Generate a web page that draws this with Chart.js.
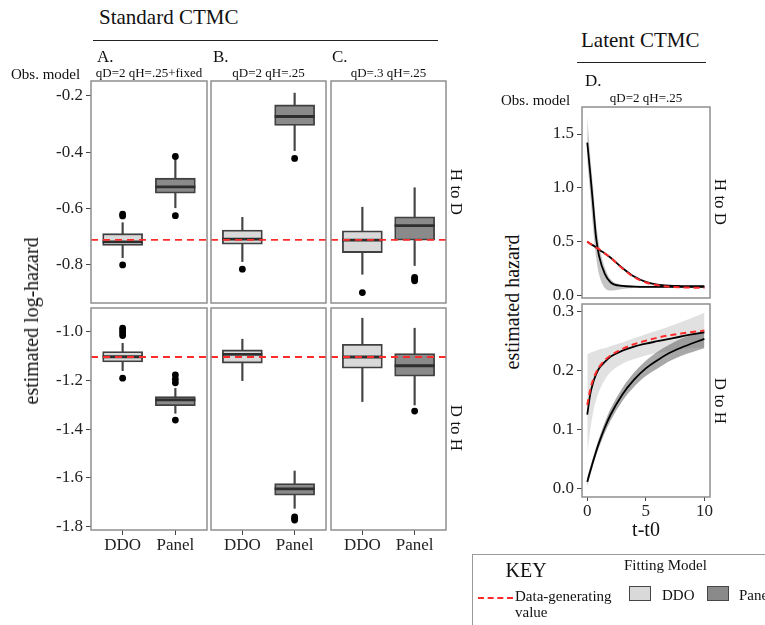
<!DOCTYPE html>
<html><head><meta charset="utf-8">
<script src="https://cdn.jsdelivr.net/npm/chart.js@4.4.1/dist/chart.umd.min.js"></script>
<style>
html,body{margin:0;padding:0;background:#fff;}
body{width:765px;height:625px;position:relative;overflow:hidden;font-family:'Liberation Serif','Times New Roman',serif;color:#111;}
canvas{position:absolute;}
.t{position:absolute;white-space:nowrap;line-height:1;}
.hr{position:absolute;border-top:1.4px solid #222;height:0;}
</style></head><body>
<script>
// ---------------- DATA ----------------
const boxCategories = ['DDO', 'Panel'];
// per category: [lower whisker, Q1, median, Q3, upper whisker]
const statsA_HtoD = [[-0.774, -0.731, -0.718, -0.689, -0.650], [-0.597, -0.545, -0.523, -0.492, -0.427]];
const statsB_HtoD = [[-0.788, -0.726, -0.708, -0.676, -0.631], [-0.394, -0.305, -0.273, -0.232, -0.190]];
const statsC_HtoD = [[-0.833, -0.756, -0.712, -0.679, -0.595], [-0.802, -0.712, -0.660, -0.629, -0.526]];
const statsA_DtoH = [[-1.160, -1.124, -1.103, -1.082, -1.048], [-1.335, -1.304, -1.280, -1.267, -1.233]];
const statsB_DtoH = [[-1.201, -1.129, -1.093, -1.075, -1.031], [-1.725, -1.671, -1.645, -1.623, -1.572]];
const statsC_DtoH = [[-1.287, -1.150, -1.104, -1.052, -0.945], [-1.301, -1.183, -1.140, -1.090, -0.986]];
// outliers per category
const outA_HtoD = [[-0.620, -0.626, -0.800], [-0.415, -0.625]];
const outB_HtoD = [[-0.815], [-0.422]];
const outC_HtoD = [[-0.898], [-0.844, -0.850, -0.856]];
const outA_DtoH = [[-0.986, -0.996, -1.006, -1.016, -1.191], [-1.178, -1.195, -1.210, -1.363]];
const outB_DtoH = [[], [-1.760, -1.767, -1.773]];
const outC_DtoH = [[], [-1.326]];
// data-generating log-hazards
const trueLogHtoD = -0.711;
const trueLogDtoH = -1.104;
const yTicksHtoD = [-0.8, -0.6, -0.4, -0.2];
const yTicksDtoH = [-1.8, -1.6, -1.4, -1.2, -1.0];

// Latent CTMC panel D
const tGrid = [0, 0.25, 0.5, 0.75, 1, 1.5, 2, 3, 4, 5, 6, 7, 8, 10];
const HtoD_true    = [0.50, 0.48, 0.465, 0.445, 0.43, 0.39, 0.35, 0.25, 0.17, 0.12, 0.095, 0.08, 0.075, 0.07];
const HtoD_fitPanel= [0.50, 0.48, 0.465, 0.445, 0.425, 0.39, 0.35, 0.255, 0.175, 0.125, 0.10, 0.09, 0.087, 0.085];
const HtoD_fitDDO  = [1.42, 1.14, 0.84, 0.54, 0.37, 0.20, 0.12, 0.088, 0.082, 0.08, 0.08, 0.08, 0.08, 0.08];
const HtoD_ddoHi   = [1.67, 1.30, 1.00, 0.68, 0.48, 0.26, 0.15, 0.10, 0.09, 0.09, 0.09, 0.09, 0.09, 0.09];
const HtoD_ddoLo   = [1.25, 0.95, 0.62, 0.36, 0.20, 0.07, 0.045, 0.06, 0.068, 0.07, 0.07, 0.07, 0.07, 0.07];
const DtoH_true    = [0.142, 0.168, 0.185, 0.197, 0.206, 0.218, 0.226, 0.237, 0.245, 0.251, 0.256, 0.26, 0.263, 0.268];
const DtoH_fitDDO  = [0.126, 0.16, 0.18, 0.194, 0.204, 0.215, 0.224, 0.234, 0.241, 0.246, 0.25, 0.254, 0.258, 0.265];
const DtoH_ddoHi   = [0.228, 0.23, 0.232, 0.234, 0.236, 0.238, 0.242, 0.248, 0.255, 0.262, 0.268, 0.275, 0.282, 0.298];
const DtoH_ddoLo   = [0.06, 0.10, 0.13, 0.15, 0.165, 0.185, 0.198, 0.212, 0.22, 0.226, 0.23, 0.233, 0.236, 0.24];
const DtoH_fitPanel= [0.012, 0.03, 0.047, 0.063, 0.078, 0.104, 0.126, 0.16, 0.185, 0.204, 0.218, 0.23, 0.239, 0.254];
const DtoH_panHi   = [0.02, 0.037, 0.054, 0.07, 0.086, 0.113, 0.136, 0.171, 0.197, 0.217, 0.232, 0.244, 0.254, 0.268];
const DtoH_panLo   = [0.005, 0.023, 0.04, 0.056, 0.07, 0.095, 0.116, 0.149, 0.173, 0.191, 0.204, 0.216, 0.225, 0.238];
const yTicksD_HtoD = [0.0, 0.5, 1.0, 1.5];
const yTicksD_DtoH = [0.0, 0.1, 0.2, 0.3];
const xTicksD = [0, 5, 10];

// ---------------- STYLE ----------------
const FONT = "'Liberation Serif', 'Times New Roman', serif";
Chart.defaults.font.family = FONT;
Chart.defaults.animation = false;
const RED = '#ff2b2b';
const FILLS = ['#d9d9d9', '#8a8a8a'];

const panelBorder = {
  id: 'panelBorder',
  afterDatasetsDraw(chart) {
    const {ctx, chartArea: a} = chart;
    ctx.save();
    ctx.strokeStyle = '#8f8f8f';
    ctx.lineWidth = 1.5;
    ctx.strokeRect(a.left, a.top, a.right - a.left, a.bottom - a.top);
    ctx.restore();
  }
};

function makeCanvas(L, T, W, H, yw, xh) {
  const pad = 3;
  const c = document.createElement('canvas');
  c.width = yw + W + pad;
  c.height = pad + H + xh + pad;
  c.style.left = (L - yw) + 'px';
  c.style.top = (T - pad) + 'px';
  document.body.appendChild(c);
  return c;
}

function yAxisCfg(show, range, ticks, yw) {
  return {
    type: 'linear', min: range[0], max: range[1], display: show,
    afterBuildTicks: s => { s.ticks = ticks.map(v => ({value: v})); },
    afterFit: s => { if (show) s.width = yw; s.paddingTop = 0; s.paddingBottom = 0; },
    grid: {display: true, drawOnChartArea: false, drawTicks: true, tickLength: 5, color: '#444', lineWidth: 1},
    border: {display: false},
    ticks: {autoSkip: false, font: {size: 17, family: FONT}, color: '#222', padding: 3,
            callback: v => Number(v).toFixed(1)}
  };
}
function xAxisCfg(show, range, ticks, labelFn, xh, tickLen) {
  return {
    type: 'linear', min: range[0], max: range[1], display: show, offset: false,
    afterBuildTicks: s => { s.ticks = ticks.map(v => ({value: v})); },
    afterFit: s => { if (show) s.height = xh; s.paddingLeft = 0; s.paddingRight = 0; },
    grid: {display: true, offset: false, drawOnChartArea: false, drawTicks: true, tickLength: tickLen, color: '#444', lineWidth: 1},
    border: {display: false},
    ticks: {autoSkip: false, maxRotation: 0, font: {size: 17, family: FONT}, color: '#222', padding: 0,
            callback: labelFn}
  };
}

function boxPanel(L, T, W, H, stats, outs, truth, yRange, yTicks, showY, showX) {
  const yw = showY ? 85 : 3, xh = showX ? 30 : 0;
  const c = makeCanvas(L, T, W, H, yw, xh);
  const xs = [1, 2];
  const outliers = [];
  outs.forEach((arr, i) => arr.forEach(v => outliers.push({x: xs[i], y: v})));
  new Chart(c, {
    type: 'bar',
    data: {
      datasets: [
        {type: 'line', data: [{x: 0.4, y: truth}, {x: 2.6, y: truth}], borderColor: RED, borderWidth: 1.8,
         borderDash: [7, 5], pointRadius: 0, order: 0},
        {type: 'scatter', data: outliers, pointRadius: 3.4, backgroundColor: '#000', borderWidth: 0, order: 1},
        {type: 'line', showLine: false, data: stats.map((s, i) => ({x: xs[i], y: s[2]})),
         pointStyle: 'line', pointRadius: 20, pointBorderWidth: 2.8, pointBorderColor: '#2e2e2e', order: 2},
        {type: 'bar', data: stats.map((s, i) => ({x: xs[i], y: [s[1], s[3]]})), backgroundColor: FILLS,
         borderColor: '#404040', borderWidth: 1.8, borderSkipped: false, barThickness: 40, grouped: false, order: 3},
        {type: 'bar', data: stats.map((s, i) => ({x: xs[i], y: [s[0], s[4]]})), backgroundColor: '#444',
         barThickness: 1.5, grouped: false, order: 4}
      ]
    },
    options: {
      responsive: false, events: [],
      layout: {autoPadding: false, padding: {left: showY ? 0 : 3, right: 3, top: 3, bottom: 3}},
      plugins: {legend: {display: false}, tooltip: {enabled: false}},
      scales: {
        x: xAxisCfg(showX, [0.4, 2.6], xs, v => boxCategories[Math.round(v) - 1], xh, 5),
        y: yAxisCfg(showY, yRange, yTicks, yw)
      }
    },
    plugins: [panelBorder]
  });
}

function series(ys, color, width, dash) {
  return {data: tGrid.map((t, i) => ({x: t, y: ys[i]})), borderColor: color, borderWidth: width,
          borderDash: dash || [], pointRadius: 0, cubicInterpolationMode: 'monotone', fill: false};
}
function ribbon(hi, lo, color) {
  return [
    {data: tGrid.map((t, i) => ({x: t, y: hi[i]})), borderWidth: 0, borderColor: 'rgba(0,0,0,0)', pointRadius: 0,
     cubicInterpolationMode: 'monotone', fill: '+1', backgroundColor: color},
    {data: tGrid.map((t, i) => ({x: t, y: lo[i]})), borderWidth: 0, borderColor: 'rgba(0,0,0,0)', pointRadius: 0,
     cubicInterpolationMode: 'monotone', fill: false}
  ];
}
function linePanel(L, T, W, H, datasets, yRange, yTicks, showX) {
  const yw = 40, xh = showX ? 22 : 0;
  const c = makeCanvas(L, T, W, H, yw, xh);
  new Chart(c, {
    type: 'line',
    data: {datasets},
    options: {
      responsive: false, events: [],
      layout: {autoPadding: false, padding: {left: 0, right: 3, top: 3, bottom: 3}},
      plugins: {legend: {display: false}, tooltip: {enabled: false}},
      scales: {
        x: xAxisCfg(showX, [-0.45, 10.48], xTicksD, v => String(v), xh, 4),
        y: yAxisCfg(true, yRange, yTicks, yw)
      }
    },
    plugins: [panelBorder]
  });
}

// ---------------- TEXT HELPERS ----------------
function txt(str, x, baseline, size, center) {
  const d = document.createElement('div');
  d.className = 't'; d.textContent = str;
  d.style.fontSize = size + 'px';
  d.style.left = x + 'px';
  d.style.top = (baseline - 0.8375 * size) + 'px';
  if (center) d.style.transform = 'translateX(-50%)';
  document.body.appendChild(d);
}
function vtxt(str, cx, cy, size, angle) {
  const d = document.createElement('div');
  d.className = 't'; d.textContent = str;
  d.style.fontSize = size + 'px';
  d.style.left = cx + 'px'; d.style.top = cy + 'px';
  d.style.transform = 'translate(-50%,-50%) rotate(' + angle + 'deg)';
  document.body.appendChild(d);
}
function hline(x1, x2, y) {
  const d = document.createElement('div');
  d.className = 'hr';
  d.style.left = x1 + 'px'; d.style.top = y + 'px'; d.style.width = (x2 - x1) + 'px';
  document.body.appendChild(d);
}

// ---------------- STANDARD CTMC ----------------
const rowTop = [81, 308], rowH = 222;
const cols = [[91, 116], [211, 115], [331, 115]];
const rangeHtoD = [-0.935, -0.147], rangeDtoH = [-1.814, -0.903];
const topStats = [statsA_HtoD, statsB_HtoD, statsC_HtoD], topOut = [outA_HtoD, outB_HtoD, outC_HtoD];
const botStats = [statsA_DtoH, statsB_DtoH, statsC_DtoH], botOut = [outA_DtoH, outB_DtoH, outC_DtoH];
cols.forEach((c, i) => {
  boxPanel(c[0], rowTop[0], c[1], rowH, topStats[i], topOut[i], trueLogHtoD, rangeHtoD, yTicksHtoD, i === 0, false);
  boxPanel(c[0], rowTop[1], c[1], rowH, botStats[i], botOut[i], trueLogDtoH, rangeDtoH, yTicksDtoH, i === 0, true);
});

txt('Standard CTMC', 99, 25, 21);
hline(93, 438, 40);
txt('A.', 97, 62, 17); txt('B.', 213, 62, 17); txt('C.', 332, 62, 17);
txt('Obs. model', 11, 79.5, 15);
txt('qD=2 qH=.25+fixed', 149, 76.5, 13, true);
txt('qD=2 qH=.25', 268.5, 76.5, 13, true);
txt('qD=.3 qH=.25', 388.5, 76.5, 13, true);
vtxt('estimated log-hazard', 30.5, 320.5, 20, -90);
vtxt('H to D', 455.5, 192, 17, 90);
vtxt('D to H', 455.5, 428, 17, 90);

// ---------------- LATENT CTMC ----------------
linePanel(582, 107, 128, 191, [
  series(HtoD_true, RED, 2, [6, 4]),
  series(HtoD_fitPanel, '#000', 1.8),
  series(HtoD_fitDDO, '#000', 1.8),
  ...ribbon(HtoD_ddoHi, HtoD_ddoLo, 'rgba(150,150,150,0.55)')
], [-0.024, 1.751], yTicksD_HtoD, false);
linePanel(582, 304, 128, 193, [
  series(DtoH_true, RED, 2, [6, 4]),
  series(DtoH_fitDDO, '#000', 1.8),
  series(DtoH_fitPanel, '#000', 1.8),
  ...ribbon(DtoH_panHi, DtoH_panLo, 'rgba(110,110,110,0.6)'),
  ...ribbon(DtoH_ddoHi, DtoH_ddoLo, 'rgba(200,200,200,0.55)')
], [-0.0136, 0.313], yTicksD_DtoH, true);

txt('Latent CTMC', 581, 47.5, 21);
hline(577, 706, 62);
txt('D.', 585, 86, 17);
txt('Obs. model', 501, 106, 15);
txt('qD=2 qH=.25', 646, 102, 13, true);
vtxt('estimated hazard', 511.5, 301.5, 20, -90);
vtxt('H to D', 720, 202, 17, 90);
vtxt('D to H', 720, 401, 17, 90);
txt('t-t0', 646, 536, 20, true);

// ---------------- KEY ----------------
(function () {
  const box = document.createElement('div');
  box.style.cssText = 'position:absolute;left:472px;top:554px;width:320px;height:90px;border:1.2px solid #9a9a9a;';
  document.body.appendChild(box);
  const dash = document.createElement('div');
  dash.style.cssText = 'position:absolute;left:478px;top:597px;width:35px;height:0;border-top:2px dashed ' + RED + ';';
  document.body.appendChild(dash);
  [[629, FILLS[0]], [707, FILLS[1]]].forEach(([x, col]) => {
    const s = document.createElement('div');
    s.style.cssText = 'position:absolute;left:' + x + 'px;top:586px;width:20px;height:13px;background:' + col + ';border:1.3px solid #464646;';
    document.body.appendChild(s);
  });
})();
txt('KEY', 505.5, 577, 20);
txt('Fitting Model', 624, 570.5, 15);
txt('Data-generating', 515, 601.5, 15);
txt('value', 515, 617.5, 15);
txt('DDO', 662, 601, 15);
txt('Panel', 739, 601, 15);
</script>
</body></html>
